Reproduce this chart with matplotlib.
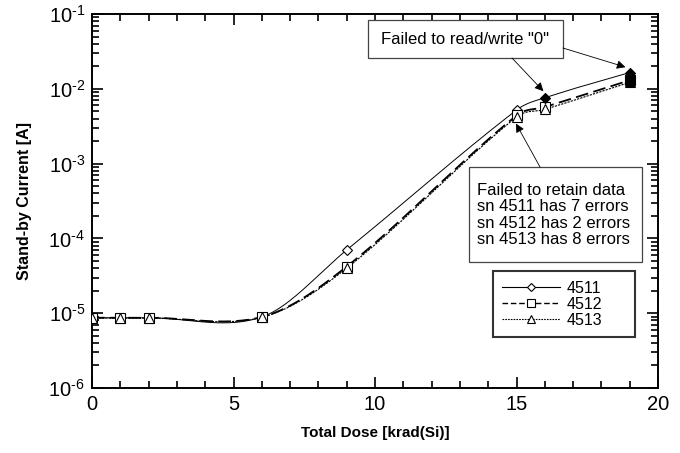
import numpy as np
import matplotlib
matplotlib.use("Agg")
import matplotlib.pyplot as plt
from matplotlib.lines import Line2D
from matplotlib.patches import Rectangle

plt.rcParams['font.family'] = ['Liberation Sans', 'DejaVu Sans']
plt.rcParams['mathtext.fontset'] = 'custom'
plt.rcParams['mathtext.rm'] = 'Liberation Sans'
plt.rcParams['mathtext.it'] = 'Liberation Sans'

# Total dose steps [krad(Si)] and stand-by current [A] per device
dose = [0, 1, 2, 6, 9, 15, 16, 19]
sn4511 = [8.7e-6, 8.7e-6, 8.7e-6, 8.9e-6, 7.0e-5, 5.2e-3, 7.6e-3, 1.65e-2]
sn4512 = [8.7e-6, 8.7e-6, 8.7e-6, 8.9e-6, 4.2e-5, 4.4e-3, 5.7e-3, 1.30e-2]
sn4513 = [8.6e-6, 8.6e-6, 8.6e-6, 8.8e-6, 4.0e-5, 4.2e-3, 5.3e-3, 1.22e-2]
labels = ['4511', '4512', '4513']
# indices of readings taken after functional failure (drawn filled)
failed = [[6, 7], [7], [7]]
decades = [-6, -5, -4, -3, -2, -1]


def smooth_curve(x, y, steps=40):
    """Cubic Hermite curve through (x, y) with Catmull-Rom style slopes."""
    x = np.asarray(x, float)
    y = np.asarray(y, float)
    n = len(x)
    m = np.empty(n)
    m[0] = (y[1] - y[0]) / (x[1] - x[0])
    m[-1] = (y[-1] - y[-2]) / (x[-1] - x[-2])
    for i in range(1, n - 1):
        m[i] = (y[i + 1] - y[i - 1]) / (x[i + 1] - x[i - 1])
    xs, ys = [], []
    t = np.linspace(0, 1, steps)
    for i in range(n - 1):
        h = x[i + 1] - x[i]
        h00 = 2 * t ** 3 - 3 * t ** 2 + 1
        h10 = t ** 3 - 2 * t ** 2 + t
        h01 = -2 * t ** 3 + 3 * t ** 2
        h11 = t ** 3 - t ** 2
        seg = h00 * y[i] + h10 * h * m[i] + h01 * y[i + 1] + h11 * h * m[i + 1]
        sx = x[i] + t * h
        if i > 0:
            seg, sx = seg[1:], sx[1:]
        xs.append(sx)
        ys.append(seg)
    return np.concatenate(xs), np.concatenate(ys)


fig = plt.figure(figsize=(6.8, 4.53), dpi=100)
ax = fig.add_axes([0.1353, 0.1435, 0.8324, 0.8256])

styles = [
    dict(ls='-', lw=0.7, marker='D', ms=5.5),
    dict(ls=(0, (7, 3)), lw=1.3, marker='s', ms=6.5),
    dict(ls=(0, (2, 1)), lw=0.8, marker='^', ms=6.5),
]
legend_ls = ['-', (0, (4, 2)), (0, (1.5, 1))]
series = [sn4511, sn4512, sn4513]

handles = []
for vals, st, lab, fl, lls in zip(series, styles, labels, failed, legend_ls):
    cx, cy = smooth_curve(dose, np.log10(vals))
    ax.plot(cx, 10 ** cy, color='black', ls=st['ls'], lw=st['lw'], zorder=2)
    xd = np.array(dose)
    yd = np.array(vals)
    ok = [i for i in range(len(dose)) if i not in fl]
    ax.plot(xd[ok], yd[ok], ls='none', marker=st['marker'], ms=st['ms'],
            mfc='white', mec='black', mew=0.8, zorder=3)
    ax.plot(xd[fl], yd[fl], ls='none', marker=st['marker'], ms=st['ms'],
            mfc='black', mec='black', mew=0.8, zorder=4)
    handles.append(Line2D([], [], color='black', ls=lls,
                          lw=1.0 if st['lw'] > 1 else 0.8,
                          marker=st['marker'], ms=st['ms'] - 1, mfc='white', mec='black', mew=0.8))

ax.set_yscale('log')
ax.set_xlim(0, 20)
ax.set_ylim(1e-6, 1e-1)
ax.set_xticks([0, 5, 10, 15, 20])
ax.set_xticks(np.arange(0, 21, 1), minor=True)
ax.set_yticks([10.0 ** d for d in decades])
ax.set_yticklabels([r'10$^{\text{%d}}$' % d for d in decades])
ax.yaxis.set_minor_locator(matplotlib.ticker.LogLocator(base=10, subs=np.arange(2, 10)))
ax.yaxis.set_minor_formatter(matplotlib.ticker.NullFormatter())
ax.tick_params(which='both', direction='in', top=True, right=True, labelsize=14.5, width=1.2)
ax.tick_params(which='major', length=8, pad=5)
ax.tick_params(which='minor', length=5)
for s in ax.spines.values():
    s.set_linewidth(1.4)

ax.set_xlabel('Total Dose [krad(Si)]', fontsize=11, fontweight='bold', labelpad=9)
ax.set_ylabel('Stand-by Current [A]', fontsize=11.5, fontweight='bold', labelpad=12)

# annotation boxes
ax.add_patch(Rectangle((0.487, 0.882), 0.345, 0.102, transform=ax.transAxes,
                       fill=True, fc='white', ec='#444444', lw=0.9, zorder=5))
ax.text(0.6595, 0.933, 'Failed to read/write "0"', transform=ax.transAxes,
        ha='center', va='center', fontsize=12, zorder=6)

ax.add_patch(Rectangle((0.666, 0.337), 0.306, 0.254, transform=ax.transAxes,
                       fill=True, fc='white', ec='#444444', lw=0.9, zorder=5))
lines2 = ['Failed to retain data', 'sn 4511 has 7 errors',
          'sn 4512 has 2 errors', 'sn 4513 has 8 errors']
for t, fy in zip(lines2, [0.529, 0.484, 0.440, 0.396]):
    ax.text(0.681, fy, t, transform=ax.transAxes, ha='left', va='center',
            fontsize=12, zorder=6)

arrow = dict(arrowstyle='-|>', color='black', lw=0.6, mutation_scale=13,
             shrinkA=0, shrinkB=0)
ax.annotate('', xy=(15.95, sn4511[6] * 1.22), xytext=(14.84, 0.0258),
            arrowprops=arrow, zorder=7)
ax.annotate('', xy=(18.85, sn4511[7] * 1.18), xytext=(16.64, 0.0351),
            arrowprops=arrow, zorder=7)
ax.annotate('', xy=(14.98, sn4512[5] * 0.78), xytext=(15.83, 9.0e-4),
            arrowprops=arrow, zorder=7)

leg = ax.legend(handles, labels, loc='lower left', bbox_to_anchor=(0.708, 0.136, 0.251, 0.174),
                mode='expand', fontsize=11.5, frameon=True, fancybox=False,
                handlelength=3.6, handletextpad=0.4, borderpad=0.6, labelspacing=0.05,
                borderaxespad=0)
leg.get_frame().set_edgecolor('black')
leg.get_frame().set_linewidth(1.5)

fig.savefig('out.png', dpi=100)
